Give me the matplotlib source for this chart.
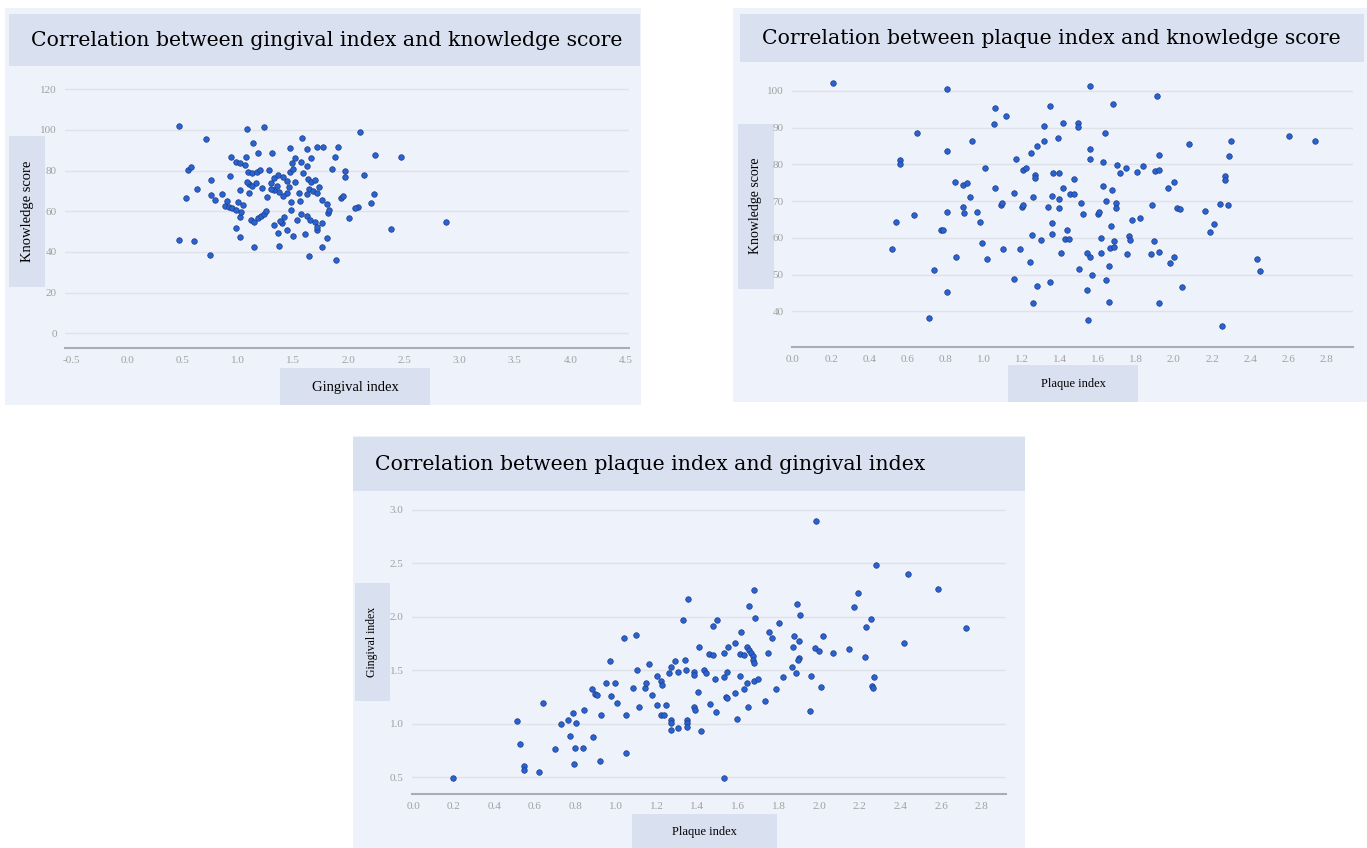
"""
牙周指数与知识得分相关性散点图 (三联图)
"""

import matplotlib
matplotlib.use('Agg')
import matplotlib.pyplot as plt
from matplotlib.patches import Rectangle

W, H = 1367, 848

# ============================================================
# 数据
# ============================================================
# 图1: 牙龈指数 vs 知识得分
gi_1 = [0.47, 1.08, 1.24, 0.71, 1.58, 2.10, 1.14, 2.24, 2.47, 2.88, 2.38, 0.47, 0.60, 0.75,
        1.15, 1.37, 1.64, 1.76, 1.89, 0.53, 0.63, 0.55, 0.58, 0.76, 0.76, 0.79, 0.86, 0.93,
        0.94, 0.985, 1.015, 1.07, 1.065, 0.88, 0.92, 0.95, 0.985, 1.00, 1.015, 1.03, 0.98,
        1.015, 1.015, 1.09, 1.13, 1.17, 1.20, 1.10, 1.13, 1.16, 1.08, 1.12, 1.15, 1.18, 1.21,
        1.24, 1.26, 1.18, 1.31, 1.47, 1.62, 1.71, 1.77, 1.90, 1.88, 1.85, 1.97, 1.97, 2.14,
        2.23, 2.20, 2.08, 2.06, 2.00, 1.93, 1.95, 1.81, 1.82, 1.80, 1.76, 1.71, 1.61, 1.50,
        1.36, 1.33, 1.40, 1.42, 1.48, 1.48, 1.56, 1.53, 1.57, 1.62, 1.65, 1.70, 1.71, 1.44,
        1.38, 1.30, 1.33, 1.36, 1.41, 1.44, 1.46, 1.44, 1.41, 1.37, 1.33, 1.30, 1.35, 1.47,
        1.49, 1.52, 1.50, 1.57, 1.62, 1.66, 1.59, 1.63, 1.66, 1.70, 1.64, 1.68, 1.71, 1.76,
        1.73, 1.62, 1.80, 1.05, 1.25, 0.90, 1.10, 1.22, 1.55, 1.28, 1.52]
ks_1 = [102.0, 100.5, 101.3, 95.4, 96.2, 98.9, 93.4, 87.7, 86.6, 54.9, 51.5, 45.9, 45.4, 38.4,
        42.6, 43.0, 38.0, 42.6, 35.9, 66.4, 71.0, 80.3, 81.8, 75.4, 67.8, 65.5, 68.6, 77.2,
        86.7, 84.3, 83.5, 86.7, 82.8, 62.8, 62.2, 61.6, 60.8, 64.7, 57.3, 59.8, 51.6,
        47.2, 70.2, 79.4, 78.6, 79.4, 80.2, 73.5, 72.6, 73.8, 74.5, 55.7, 54.9, 56.5, 57.6,
        58.6, 67.1, 88.7, 88.7, 90.9, 90.4, 91.4, 91.4, 91.7, 86.8, 80.6, 79.7, 77.0, 77.8,
        68.4, 63.9, 62.3, 61.4, 56.6, 66.4, 67.6, 59.0, 60.5, 46.7, 54.0, 50.8, 48.7, 47.9,
        49.2, 53.3, 54.0, 57.0, 64.7, 60.6, 64.8, 55.5, 58.5, 57.5, 55.5, 54.5, 52.5, 51.0,
        55.0, 74.0, 76.5, 78.0, 77.0, 75.0, 72.0, 69.0, 67.5, 69.5, 70.5, 71.0, 72.5, 79.4,
        83.5, 86.0, 81.0, 84.0, 82.0, 86.0, 78.6, 76.0, 74.5, 75.5, 71.0, 70.0, 69.0, 65.5,
        72.0, 68.5, 63.5, 63.0, 60.0, 65.0, 69.0, 71.5, 69.0, 80.5, 74.5]

# 图2: 菌斑指数 vs 知识得分
pi_2 = [0.21, 0.81, 1.06, 1.055, 1.12, 0.65, 0.94, 0.81, 0.56, 0.56, 1.01, 0.85, 0.895, 0.915,
        0.93, 1.06, 1.16, 1.17, 1.21, 1.225, 1.25, 1.28, 1.32, 1.32, 1.35, 1.27, 1.27, 1.09,
        1.095, 1.20, 1.21, 1.26, 1.34, 0.81, 0.895, 0.90, 0.965, 0.98, 0.54, 0.635, 0.775,
        0.79, 0.99, 0.52, 0.855, 1.02, 1.105, 1.19, 1.245, 1.255, 1.30, 1.36, 1.36, 0.74,
        1.16, 1.28, 1.35, 0.81, 1.26, 0.715, 1.39,
        1.56, 1.91, 1.68, 1.42, 1.495, 1.495, 1.64, 1.56, 1.56, 1.63, 1.70, 1.715, 1.75,
        1.805, 1.835, 1.90, 1.92, 1.92, 2.08, 2.30, 2.29, 2.605, 2.74, 2.27, 2.27, 2.00,
        1.97, 2.24, 2.285, 2.165, 2.015, 2.03, 1.885, 2.21, 2.19, 1.365, 1.395, 1.475, 1.42,
        1.36, 1.395, 1.455, 1.475, 1.395, 1.51, 1.52, 1.60, 1.605, 1.625, 1.675, 1.645,
        1.695, 1.695, 1.67, 1.78, 1.82, 1.44, 1.43, 1.45, 1.615, 1.685, 1.665, 1.685, 1.765,
        1.77, 1.895, 1.405, 1.545, 1.56, 1.615, 1.755, 1.88, 1.92, 2.00, 1.98, 1.50, 1.57,
        1.66, 1.645, 1.545, 2.04, 1.66, 1.92, 1.55, 2.25, 2.435, 2.45]
ks_2 = [102.0, 100.4, 95.4, 91.0, 93.2, 88.6, 86.2, 83.6, 81.2, 80.1, 78.9, 75.3, 74.4, 74.8,
        71.0, 73.6, 72.1, 81.4, 78.5, 78.9, 83.0, 85.0, 86.4, 90.5, 95.8, 77.1, 76.2, 69.0,
        69.4, 68.5, 68.8, 71.0, 68.5, 67.1, 68.5, 66.7, 67.1, 64.4, 64.4, 66.2, 62.0,
        62.0, 58.6, 56.9, 54.8, 54.2, 57.0, 57.0, 53.4, 60.8, 59.5, 64.0, 61.1, 51.3,
        48.9, 47.0, 47.9, 45.3, 42.3, 38.1, 87.1,
        101.3, 98.6, 96.3, 91.1, 91.1, 90.2, 88.6, 84.2, 81.4, 80.5, 79.8, 77.6, 79.1,
        78.0, 79.4, 78.2, 78.5, 82.5, 85.5, 86.4, 82.3, 87.7, 86.4, 76.8, 75.7, 75.3,
        73.5, 69.2, 69.0, 67.3, 68.1, 67.9, 69.0, 63.7, 61.5, 77.6, 77.6, 76.0, 73.5,
        71.4, 70.5, 71.9, 71.9, 68.2, 69.6, 66.4, 66.5, 66.9, 74.1, 73.0, 69.9,
        69.4, 68.1, 63.3, 64.9, 65.5, 62.0, 59.7, 59.7, 59.9, 59.0, 57.2, 57.6, 60.4,
        59.5, 59.0, 56.0, 56.0, 54.9, 55.8, 55.7, 55.7, 56.1, 54.9, 53.1, 51.5, 50.0,
        52.2, 48.6, 45.9, 46.6, 42.5, 42.3, 37.6, 35.9, 54.2, 51.1]

# 图3: 菌斑指数 vs 牙龈指数
pi_3 = [0.198, 0.511, 0.526, 0.547, 0.547, 0.622, 0.642, 0.699, 0.727, 0.765, 0.772, 0.790,
        0.803, 0.796, 0.793, 0.842, 0.838, 0.883, 0.896, 0.904, 0.886, 0.919, 0.927, 0.948,
        0.971, 0.973, 0.996, 1.006, 1.040, 1.047, 1.047, 1.081, 1.099, 1.101, 1.111, 1.143,
        1.148, 1.163, 1.176, 1.199, 1.219, 1.227, 1.200, 1.219, 1.235, 1.248, 1.268, 1.268,
        1.268, 1.260, 1.268, 1.289, 1.304, 1.304, 1.337, 1.342, 1.350, 1.350, 1.350, 1.328,
        1.353, 1.383, 1.383, 1.402, 1.383, 1.391, 1.407, 1.419, 1.432, 1.443, 1.461, 1.459,
        1.477, 1.477, 1.497, 1.486, 1.490, 1.530, 1.533, 1.546, 1.543, 1.546, 1.530, 1.550,
        1.984, 2.280, 2.436, 2.586, 2.721, 2.418, 1.677, 2.193, 2.172, 1.654, 1.890, 1.907,
        2.256, 2.231, 1.684, 1.803, 1.751, 1.767, 1.617, 1.877, 1.902, 2.021, 1.587, 1.644,
        1.654, 1.664, 1.672, 1.672, 1.677, 1.612, 1.628, 1.746, 1.871, 1.981, 1.997, 2.067,
        2.149, 2.226, 1.902, 1.895, 1.864, 1.887, 1.608, 1.644, 1.677, 1.697, 1.820, 1.961,
        2.010, 2.271, 2.259, 2.267, 1.584, 1.628, 1.788, 1.735, 1.649, 1.596, 1.953]
gi_3 = [0.491, 1.030, 0.812, 0.606, 0.569, 0.553, 1.198, 0.768, 0.996, 1.036, 0.886, 1.105,
        1.011, 0.777, 0.625, 1.124, 0.777, 1.323, 1.279, 1.264, 0.874, 0.650, 1.086, 1.385,
        1.588, 1.261, 1.379, 1.192, 1.797, 1.086, 0.731, 1.332, 1.831, 1.504, 1.155, 1.338,
        1.379, 1.557, 1.273, 1.448, 1.395, 1.364, 1.176, 1.083, 1.083, 1.176, 1.036, 1.011,
        0.943, 1.473, 1.535, 1.582, 1.488, 0.964, 1.597, 1.504, 1.036, 1.005, 0.967, 1.971,
        2.165, 1.488, 1.457, 1.301, 1.155, 1.130, 1.722, 0.936, 1.504, 1.473, 1.186, 1.650,
        1.638, 1.918, 1.971, 1.416, 1.114, 1.660, 1.441, 1.488, 1.254, 1.239, 0.491, 1.722,
        2.897, 2.486, 2.401, 2.258, 1.893, 1.756, 2.246, 2.221, 2.087, 2.105, 2.118, 2.018,
        1.981, 1.909, 1.993, 1.946, 1.862, 1.806, 1.862, 1.822, 1.775, 1.816, 1.753, 1.720,
        1.690, 1.660, 1.630, 1.600, 1.570, 1.650, 1.644, 1.666, 1.713, 1.706, 1.681, 1.660,
        1.697, 1.628, 1.619, 1.597, 1.535, 1.473, 1.448, 1.385, 1.404, 1.416, 1.435, 1.448,
        1.348, 1.441, 1.354, 1.332, 1.286, 1.323, 1.326, 1.217, 1.161, 1.045, 1.117]

# 刻度
ticks_1x = [-0.5, 0.0, 0.5, 1.0, 1.5, 2.0, 2.5, 3.0, 3.5, 4.0, 4.5]
ticks_1y = [0, 20, 40, 60, 80, 100, 120]
ticks_px = [0.0, 0.2, 0.4, 0.6, 0.8, 1.0, 1.2, 1.4, 1.6, 1.8, 2.0, 2.2, 2.4, 2.6, 2.8]
ticks_2y = [40, 50, 60, 70, 80, 90, 100]
ticks_3y = [0.5, 1.0, 1.5, 2.0, 2.5, 3.0]

# ============================================================
# 样式
# ============================================================
BG = '#eef2fa'
BAND = '#d9e0f0'
DOT = '#2563d6'
SERIF = ['Liberation Serif', 'DejaVu Serif']
TITLE_FONT = ['DejaVu Serif']
TITLE_SIZE = 14.7


def px_box(fig, x0, y0, x1, y1, color, z=-2):
    """按像素坐标(左上为原点)画矩形"""
    fig.add_artist(Rectangle((x0 / W, 1 - y1 / H), (x1 - x0) / W, (y1 - y0) / H,
                             transform=fig.transFigure, facecolor=color,
                             edgecolor='none', zorder=z))


def px_axes(fig, x0, y0, x1, y1):
    return fig.add_axes([x0 / W, 1 - y1 / H, (x1 - x0) / W, (y1 - y0) / H])


def draw_panel(fig, ax, x, y, xlim, ylim, xticks, yticks, fmt_x, fmt_y):
    ax.set_facecolor('none')
    ax.scatter(x, y, s=16, c=DOT, edgecolors='#233a7a', linewidths=0.5, zorder=3)
    ax.set_xlim(xlim)
    ax.set_ylim(ylim)
    ax.set_xticks(xticks)
    ax.set_xticklabels([fmt_x.format(t) for t in xticks])
    ax.set_yticks(yticks)
    ax.set_yticklabels([fmt_y.format(t) for t in yticks])
    ax.grid(axis='y', color='#dfe2e9', linewidth=1.0)
    ax.set_axisbelow(True)
    for s in ['top', 'right', 'left']:
        ax.spines[s].set_visible(False)
    ax.spines['bottom'].set_color('#a9adb5')
    ax.spines['bottom'].set_linewidth(1.5)
    ax.tick_params(length=0, labelsize=8, labelcolor='#a0a0a0', pad=6)
    for lab in ax.get_xticklabels() + ax.get_yticklabels():
        lab.set_family(SERIF)


fig = plt.figure(figsize=(W / 100, H / 100), dpi=100)
fig.patch.set_facecolor('white')

# --- 图1 ---
px_box(fig, 5, 8, 641, 405, BG)
px_box(fig, 9, 14, 640, 66, BAND, z=-1)
px_box(fig, 9, 136, 45, 287, BAND, z=-1)
px_box(fig, 280, 368, 430, 405, BAND, z=-1)
fig.text(31 / W, 1 - 41 / H, 'Correlation between gingival index and knowledge score',
         family=TITLE_FONT, fontsize=TITLE_SIZE, va='center', ha='left')
fig.text(27 / W, 1 - 211 / H, 'Knowledge score', family=SERIF, fontsize=10.5,
         rotation=90, ha='center', va='center')
fig.text(355 / W, 1 - 387 / H, 'Gingival index', family=SERIF, fontsize=10.5,
         ha='center', va='center')
ax1 = px_axes(fig, 65, 81, 629, 348)
draw_panel(fig, ax1, gi_1, ks_1, (-0.56, 4.53), (-7.2, 124), ticks_1x, ticks_1y,
           '{:.1f}', '{:d}')

# --- 图2 ---
px_box(fig, 733, 8, 1367, 402, BG)
px_box(fig, 740, 14, 1364, 62, BAND, z=-1)
px_box(fig, 738, 124, 774, 289, BAND, z=-1)
px_box(fig, 1008, 365, 1138, 402, BAND, z=-1)
fig.text(762 / W, 1 - 39 / H, 'Correlation between plaque index and knowledge score',
         family=TITLE_FONT, fontsize=TITLE_SIZE, va='center', ha='left')
fig.text(756 / W, 1 - 206 / H, 'Knowledge score', family=SERIF, fontsize=10,
         rotation=90, ha='center', va='center')
fig.text(1073 / W, 1 - 384 / H, 'Plaque index', family=SERIF, fontsize=9,
         ha='center', va='center')
ax2 = px_axes(fig, 792, 72, 1353, 347)
draw_panel(fig, ax2, pi_2, ks_2, (-0.005, 2.94), (30.3, 105.1), ticks_px, ticks_2y,
           '{:.1f}', '{:d}')

# --- 图3 ---
px_box(fig, 353, 436, 1025, 848, BG)
px_box(fig, 353, 437, 1025, 491, BAND, z=-1)
px_box(fig, 355, 583, 390, 701, BAND, z=-1)
px_box(fig, 632, 814, 777, 848, BAND, z=-1)
fig.text(375 / W, 1 - 464 / H, 'Correlation between plaque index and gingival index',
         family=TITLE_FONT, fontsize=TITLE_SIZE, va='center', ha='left')
fig.text(372 / W, 1 - 642 / H, 'Gingival index', family=SERIF, fontsize=8.5,
         rotation=90, ha='center', va='center')
fig.text(704 / W, 1 - 832 / H, 'Plaque index', family=SERIF, fontsize=9,
         ha='center', va='center')
ax3 = px_axes(fig, 412, 497, 1006, 794)
draw_panel(fig, ax3, pi_3, gi_3, (-0.005, 2.92), (0.343, 3.12), ticks_px, ticks_3y,
           '{:.1f}', '{:.1f}')

plt.savefig('out.png', dpi=100)
